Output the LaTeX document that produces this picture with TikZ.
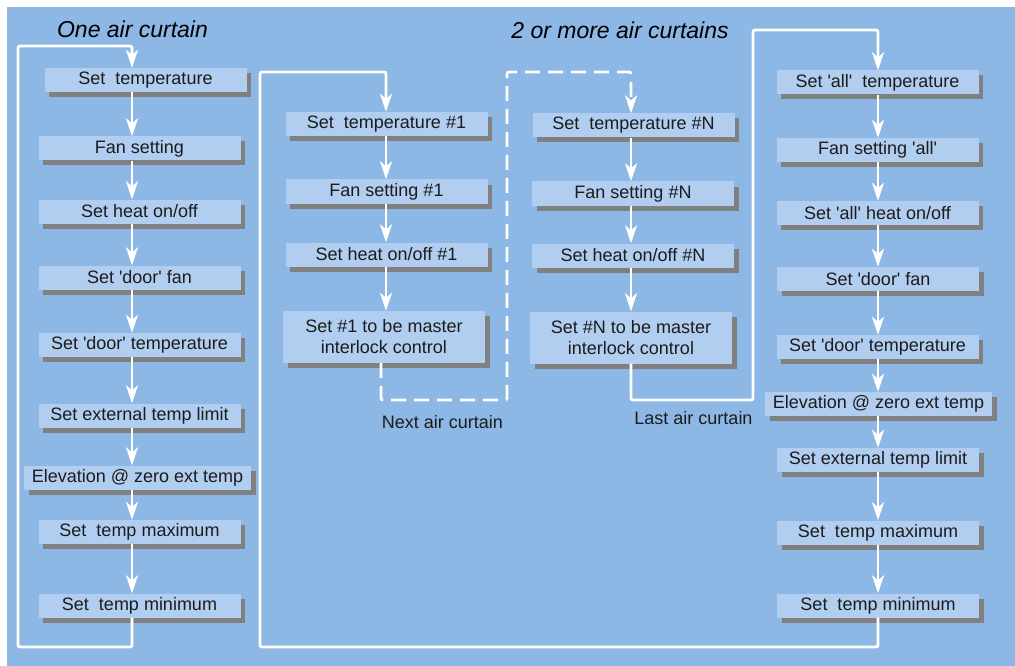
\documentclass[tikz,border=0pt]{standalone}
\usepackage{fontspec}
\setmainfont{Liberation Sans}
\usetikzlibrary{arrows.meta,positioning,shadows}
\definecolor{panel}{RGB}{141,183,228}
\definecolor{boxfill}{RGB}{177,206,240}
\definecolor{ink}{RGB}{28,28,28}
\newcommand{\tick}{\textquotesingle}

\begin{document}
\begin{tikzpicture}[x=1pt,y=1pt,
    stepbox/.style={fill=boxfill, text=ink, inner sep=0pt, minimum width=202pt, minimum height=24pt,
      align=center, font=\fontsize{18}{21}\selectfont,
      drop shadow={fill=black!50, opacity=1, shadow xshift=4.5pt, shadow yshift=-5pt}},
    widebox/.style={stepbox, minimum width=227pt},
    tallbox/.style={stepbox, minimum height=52pt},
    wire/.style={white, line width=2.8pt, rounded corners=2pt},
    flow/.style={wire, -{Stealth[length=18pt,width=12pt,inset=5pt]}},
    heading/.style={text=black, font=\fontsize{23}{26}\selectfont\itshape},
    note/.style={text=ink, font=\fontsize{18}{21}\selectfont}]
    \useasboundingbox (0,0) rectangle (1015,-666);
    \fill[panel] (7,-7) rectangle (1015,-666);

    \node[heading] (one) at (132.5,-29) {One air curtain};
    \node[heading] (many) at (620,-30) {2 or more air curtains};

    \node[stepbox] (L1) at (145.5,-80) {Set~~temperature};
    \node[stepbox] (L2) at (139.5,-148.5) {Fan setting};
    \node[stepbox] (L3) at (139.5,-211.5) {Set heat on/off};
    \node[stepbox] (L4) at (139.5,-277.5) {Set \tick door\tick\ fan};
    \node[stepbox] (L5) at (139.5,-345) {Set \tick door\tick\ temperature};
    \node[stepbox] (L6) at (139.5,-415.5) {Set external temp limit};
    \node[widebox] (L7) at (137.5,-477.5) {Elevation @ zero ext temp};
    \node[stepbox] (L8) at (139.5,-532) {Set~~temp maximum};
    \node[stepbox] (L9) at (139.5,-605.5) {Set~~temp minimum};

    \node[stepbox] (A1) at (386.5,-124) {Set~~temperature \#1};
    \node[stepbox] (A2) at (386.5,-191.5) {Fan setting \#1};
    \node[stepbox] (A3) at (386.5,-254.5) {Set heat on/off \#1};
    \node[tallbox] (A4) at (384,-337) {Set \#1 to be master\\interlock control};

    \node[stepbox] (N1) at (633.5,-125.5) {Set~~temperature \#N};
    \node[stepbox] (N2) at (633,-193.5) {Fan setting \#N};
    \node[stepbox] (N3) at (633,-255.5) {Set heat on/off \#N};
    \node[tallbox] (N4) at (631,-337.5) {Set \#N to be master\\interlock control};

    \node[stepbox] (R1) at (877.5,-82.5) {Set \tick all\tick~~temperature};
    \node[stepbox] (R2) at (877.5,-150) {Fan setting \tick all\tick};
    \node[stepbox] (R3) at (877.5,-213) {Set \tick all\tick\ heat on/off};
    \node[stepbox] (R4) at (878,-279) {Set \tick door\tick\ fan};
    \node[stepbox] (R5) at (877.5,-347) {Set \tick door\tick\ temperature};
    \node[widebox] (R6) at (878.5,-404) {Elevation @ zero ext temp};
    \node[stepbox] (R7) at (878,-460) {Set external temp limit};
    \node[stepbox] (R8) at (878,-532.5) {Set~~temp maximum};
    \node[stepbox] (R9) at (878,-605.5) {Set~~temp minimum};

    \node[note] (next) at (442.5,-422) {Next air curtain};
    \node[note] (last) at (693.5,-418) {Last air curtain};

    \coordinate (lx) at (132,0);
    \coordinate (ax) at (386,0);
    \coordinate (ao) at (381,0);
    \coordinate (nx) at (631,0);
    \coordinate (rx) at (878,0);
    \coordinate (lbot) at (18,-647);
    \coordinate (ltop) at (132,-46);
    \coordinate (bbot) at (260,-647);
    \coordinate (btop) at (386,-72);
    \coordinate (dbot) at (507,-400);
    \coordinate (dtop) at (631,-72);
    \coordinate (xbot) at (753,-400);
    \coordinate (xtop) at (878,-30);

    \draw[flow] (L1.south -| lx) -- (L2.north -| lx);
    \draw[flow] (L2.south -| lx) -- (L3.north -| lx);
    \draw[flow] (L3.south -| lx) -- (L4.north -| lx);
    \draw[flow] (L4.south -| lx) -- (L5.north -| lx);
    \draw[flow] (L5.south -| lx) -- (L6.north -| lx);
    \draw[flow] (L6.south -| lx) -- (L7.north -| lx);
    \draw[flow] (L7.south -| lx) -- (L8.north -| lx);
    \draw[flow] (L8.south -| lx) -- (L9.north -| lx);
    \draw[flow] (L9.south -| lx) |- (lbot) |- (ltop) -- (L1.north -| lx);

    \draw[flow] (A1.south -| ax) -- (A2.north -| ax);
    \draw[flow] (A2.south -| ax) -- (A3.north -| ax);
    \draw[flow] (A3.south -| ax) -- (A4.north -| ax);
    \draw[flow, dash pattern=on 15pt off 8pt] (A4.south -| ao) |- (dbot) |- (dtop) -- (N1.north -| nx);

    \draw[flow] (N1.south -| nx) -- (N2.north -| nx);
    \draw[flow] (N2.south -| nx) -- (N3.north -| nx);
    \draw[flow] (N3.south -| nx) -- (N4.north -| nx);
    \draw[flow] (N4.south -| nx) |- (xbot) |- (xtop) -- (R1.north -| rx);

    \draw[flow] (R1.south -| rx) -- (R2.north -| rx);
    \draw[flow] (R2.south -| rx) -- (R3.north -| rx);
    \draw[flow] (R3.south -| rx) -- (R4.north -| rx);
    \draw[flow] (R4.south -| rx) -- (R5.north -| rx);
    \draw[flow] (R5.south -| rx) -- (R6.north -| rx);
    \draw[flow] (R6.south -| rx) -- (R7.north -| rx);
    \draw[flow] (R7.south -| rx) -- (R8.north -| rx);
    \draw[flow] (R8.south -| rx) -- (R9.north -| rx);
    \draw[flow] (R9.south -| rx) |- (bbot) |- (btop) -- (A1.north -| ax);
\end{tikzpicture}
\end{document}
